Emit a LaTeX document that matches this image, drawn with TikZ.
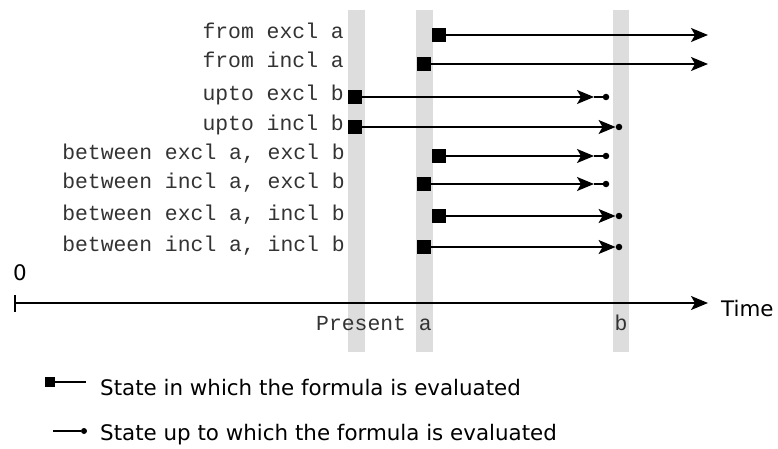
\documentclass[tikz,border=0pt]{standalone}
\usepackage{fontspec}
\setmainfont{DejaVu Sans}
\newfontfamily\monof{Liberation Mono}
\usetikzlibrary{arrows.meta}
\definecolor{barc}{HTML}{DDDDDD}
\definecolor{txtc}{HTML}{333333}
\tikzset{
  bar/.style={fill=barc, draw=none},
  sq/.style={fill=black, draw=none, minimum size=14pt, inner sep=0pt},
  lsq/.style={fill=black, draw=none, minimum size=10pt, inner sep=0pt},
  dotn/.style={circle, fill=black, draw=none, minimum size=6.5pt, inner sep=0pt},
  ldot/.style={circle, fill=black, draw=none, minimum size=6pt, inner sep=0pt},
  arr/.style={line width=1.4pt, -{Stealth[length=17pt, width=14pt, inset=4pt]}},
  plain/.style={line width=1.4pt},
  mono/.style={font=\monof\fontsize{21.4}{25}\selectfont, text=txtc, inner sep=0pt},
  sans/.style={font=\fontsize{21.4}{25}\selectfont, text=black, inner sep=0pt},
}
\begin{document}
\begin{tikzpicture}[x=1pt, y=-1pt]
\useasboundingbox (0,0) rectangle (778,449);
% gray bars
\fill[bar] (348,10) rectangle (365,352);
\fill[bar] (416,10) rectangle (433,352);
\fill[bar] (613,10) rectangle (629,352);

% labels
\node[mono, anchor=base east] (l1) at (344,39) {from excl a};
\node[mono, anchor=base east] (l2) at (344,68) {from incl a};
\node[mono, anchor=base east] (l3) at (344,101) {upto excl b};
\node[mono, anchor=base east] (l4) at (344,131) {upto incl b};
\node[mono, anchor=base east] (l5) at (345,160) {between excl a, excl b};
\node[mono, anchor=base east] (l6) at (345,188) {between incl a, excl b};
\node[mono, anchor=base east] (l7) at (345,220) {between excl a, incl b};
\node[mono, anchor=base east] (l8) at (345,251) {between incl a, incl b};

% row 1: from excl a
\node[sq] (s1) at (439,35) {};
\coordinate (e1) at (708,35);
\draw[arr] (s1.east) -- (e1);
% row 2: from incl a
\node[sq] (s2) at (424,64) {};
\coordinate (e2) at (708,64);
\draw[arr] (s2.east) -- (e2);
% row 3: upto excl b
\node[sq] (s3) at (355,97) {};
\coordinate (t3) at (594,97);
\node[dotn] (d3) at (606,97) {};
\draw[arr] (s3.east) -- (t3);
\draw[plain] (t3) -- (d3);
% row 4: upto incl b
\node[sq] (s4) at (355,127) {};
\node[dotn] (d4) at (619,127) {};
\draw[arr] (s4.east) -- (d4.west);
% row 5: between excl a, excl b
\node[sq] (s5) at (439,156) {};
\coordinate (t5) at (594,156);
\node[dotn] (d5) at (606,156) {};
\draw[arr] (s5.east) -- (t5);
\draw[plain] (t5) -- (d5);
% row 6: between incl a, excl b
\node[sq] (s6) at (424,184) {};
\coordinate (t6) at (594,184);
\node[dotn] (d6) at (606,184) {};
\draw[arr] (s6.east) -- (t6);
\draw[plain] (t6) -- (d6);
% row 7: between excl a, incl b
\node[sq] (s7) at (439,216) {};
\node[dotn] (d7) at (619,216) {};
\draw[arr] (s7.east) -- (d7.west);
% row 8: between incl a, incl b
\node[sq] (s8) at (424,247) {};
\node[dotn] (d8) at (619,247) {};
\draw[arr] (s8.east) -- (d8.west);

% time axis
\coordinate (a0) at (15,303);
\coordinate (a1) at (708,303);
\coordinate (tk0) at (15,295);
\coordinate (tk1) at (15,312);
\draw[arr] (a0) -- (a1);
\draw[line width=1.2pt] (tk0) -- (tk1);
\node[sans, anchor=base west] (zero) at (13,280) {0};
\node[sans, anchor=base west] (time) at (721,316) {Time};
\node[mono, anchor=base west] (pres) at (316,330) {Present a};
\node[mono, anchor=base] (bl) at (621,330) {b};

% legend
\node[lsq] (lg1) at (50,382) {};
\coordinate (lg1e) at (86,382);
\draw[plain] (lg1.east) -- (lg1e);
\node[sans, anchor=base west] (lt1) at (100,395) {State in which the formula is evaluated};
\coordinate (lg2s) at (53,431);
\node[ldot] (lg2) at (84,431) {};
\draw[plain] (lg2s) -- (lg2);
\node[sans, anchor=base west] (lt2) at (100,440) {State up to which the formula is evaluated};
\end{tikzpicture}
\end{document}
